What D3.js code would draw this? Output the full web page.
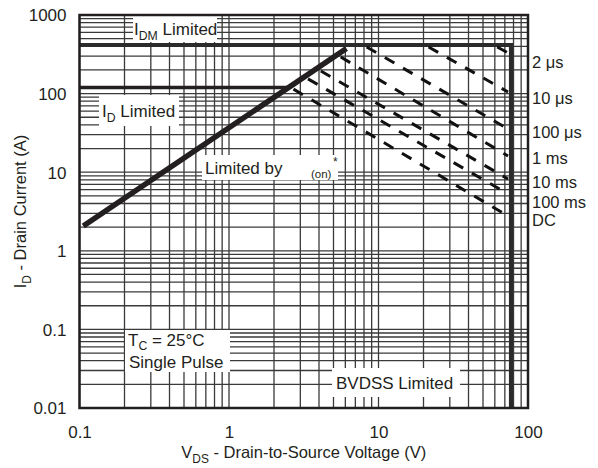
<!DOCTYPE html>
<html><head><meta charset="utf-8">
<script src="https://cdn.jsdelivr.net/npm/d3@7"></script>
<style>
body{margin:0;background:#fff}
text{font-family:"Liberation Sans",Arial,Helvetica,sans-serif;fill:#231f20}
</style>
</head><body>
<svg id="c" width="598" height="468"></svg>
<script>
// ---- data ----
const xTickValues = [0.1, 1, 10, 100];
const yTickValues = [0.01, 0.1, 1, 10, 100, 1000];
const rdsV = [0.106, 6.1];          // R_DS(on) limit line (V)
const rdsI = [2.07, 375];           // R_DS(on) limit line (A)
const idmLimit = 415;               // A
const idLimit = 120;                // A
const bvdssLimit = 77;              // V
const pulseLabels = ["2 μs", "10 μs", "100 μs", "1 ms", "10 ms", "100 ms", "DC"];
const pulseStartV = [59, 20.5, 7.9, 5.3, 3.9, 3.2, 2.56];
const pulseStartI = [415, 415, 415, 310, 206, 163, 121];
const pulseEndV   = [73.5, 73.5, 73.5, 73.5, 73.5, 73.5, 73.5];
const pulseEndI   = [329, 105, 35.5, 16.1, 8.2, 5.3, 2.77];
const pulseLabelI = [252, 88, 32.4, 15.2, 7.5, 4.1, 2.45];

// ---- layout ----
const svg = d3.select("#c");
const L = 79.5, R = 528, T = 15, B = 408;
const x = d3.scaleLog().domain([0.1, 100]).range([L, R]);
const y = d3.scaleLog().domain([0.01, 1000]).range([B, T]);
const ink = "#231f20";

// grid
const g = svg.append("g");
g.selectAll("line.vx").data(x.ticks()).enter().append("line")
  .attr("x1", d => x(d)).attr("x2", d => x(d)).attr("y1", T).attr("y2", B)
  .attr("stroke", "#3a3a3a").attr("stroke-width", 1.3);
g.selectAll("line.hy").data(y.ticks()).enter().append("line")
  .attr("y1", d => y(d)).attr("y2", d => y(d)).attr("x1", L).attr("x2", R)
  .attr("stroke", "#3a3a3a").attr("stroke-width", 1.3);

// axes tick labels
const xAxis = d3.axisBottom(x).tickValues(xTickValues).tickSize(0).tickPadding(0)
  .tickFormat(d => String(d));
const xa = svg.append("g").attr("transform", `translate(0,${B})`).call(xAxis);
xa.select(".domain").remove();
xa.selectAll("text").attr("y", 18).attr("dy", "0.71em").attr("font-size", 17)
  .style("font-family", '"Liberation Sans",Arial,sans-serif').attr("fill", ink);
const yAxis = d3.axisLeft(y).tickValues(yTickValues).tickSize(0).tickPadding(0)
  .tickFormat(d => String(d));
const ya = svg.append("g").attr("transform", `translate(${L},0)`).call(yAxis);
ya.select(".domain").remove();
ya.selectAll("text").attr("x", -13).attr("dy", "0.35em").attr("font-size", 17)
  .style("font-family", '"Liberation Sans",Arial,sans-serif').attr("fill", ink);

// label boxes
function box(x0, y0, w, h) {
  svg.append("rect").attr("x", x0).attr("y", y0).attr("width", w).attr("height", h).attr("fill", "#fff");
}
box(133, 16, 84, 26);
box(99, 95, 80, 31);
box(202, 155, 136, 25);
box(125, 330, 105, 42);
box(332, 368, 128, 29);

function sub(t, main, s, rest, fs, dy) {
  t.append("tspan").text(main);
  t.append("tspan").attr("font-size", fs * 0.72).attr("dy", dy).text(s);
  t.append("tspan").attr("dy", -dy).text(rest);
}
let t = svg.append("text").attr("x", 134).attr("y", 35).attr("font-size", 17);
sub(t, "I", "DM", " Limited", 17, 5);
t = svg.append("text").attr("x", 102).attr("y", 117).attr("font-size", 17);
sub(t, "I", "D", " Limited", 17, 5);
svg.append("text").attr("x", 205).attr("y", 174).attr("font-size", 17).text("Limited by");
svg.append("text").attr("x", 311).attr("y", 178).attr("font-size", 11.5).text("(on)");
svg.append("text").attr("x", 333).attr("y", 166).attr("font-size", 12).text("*");
t = svg.append("text").attr("x", 128).attr("y", 346).attr("font-size", 17);
sub(t, "T", "C", " = 25°C", 17, 4);
svg.append("text").attr("x", 129).attr("y", 368).attr("font-size", 17).text("Single Pulse");
svg.append("text").attr("x", 336).attr("y", 389).attr("font-size", 17).text("BVDSS Limited");

// limit lines
const lg = d3.line().x(d => x(d[0])).y(d => y(d[1]));
// ID limit ends at R_DS(on) line
const lx0 = Math.log10(rdsV[0]), lx1 = Math.log10(rdsV[1]);
const ly0 = Math.log10(rdsI[0]), ly1 = Math.log10(rdsI[1]);
const tId = (Math.log10(idLimit) - ly0) / (ly1 - ly0);
const vId = Math.pow(10, lx0 + tId * (lx1 - lx0));
svg.append("path").attr("d", lg([[0.1, idLimit], [vId, idLimit]]))
  .attr("fill", "none").attr("stroke", ink).attr("stroke-width", 3.5);
svg.append("path").attr("d", lg([[0.1, idmLimit], [bvdssLimit, idmLimit], [bvdssLimit, 0.01]]))
  .attr("fill", "none").attr("stroke", "#2b2b2b").attr("stroke-width", 4.2);
svg.append("path").attr("d", lg(rdsV.map((v, i) => [v, rdsI[i]])))
  .attr("fill", "none").attr("stroke", ink).attr("stroke-width", 5.5);

// pulse lines
pulseLabels.forEach((lab, i) => {
  svg.append("path").attr("d", lg([[pulseStartV[i], pulseStartI[i]], [pulseEndV[i], pulseEndI[i]]]))
    .attr("fill", "none").attr("stroke", "#111").attr("stroke-width", 3)
    .attr("stroke-dasharray", "11,10").attr("stroke-dashoffset", -4);
  svg.append("text").attr("x", R + 4).attr("y", y(pulseLabelI[i])).attr("dy", "0.35em")
    .attr("font-size", 16.5).text(lab);
});

// frame
svg.append("rect").attr("x", L).attr("y", T).attr("width", R - L).attr("height", B - T)
  .attr("fill", "none").attr("stroke", ink).attr("stroke-width", 2.5);

// axis titles
t = svg.append("text").attr("transform", `translate(26,${(T + B) / 2}) rotate(-90)`)
  .attr("text-anchor", "middle").attr("font-size", 16.5);
sub(t, "I", "D", " - Drain Current (A)", 16.5, 5);
t = svg.append("text").attr("x", (L + R) / 2).attr("y", 458).attr("text-anchor", "middle").attr("font-size", 16.5);
sub(t, "V", "DS", " - Drain-to-Source Voltage (V)", 16.5, 5);
</script>
</body></html>
